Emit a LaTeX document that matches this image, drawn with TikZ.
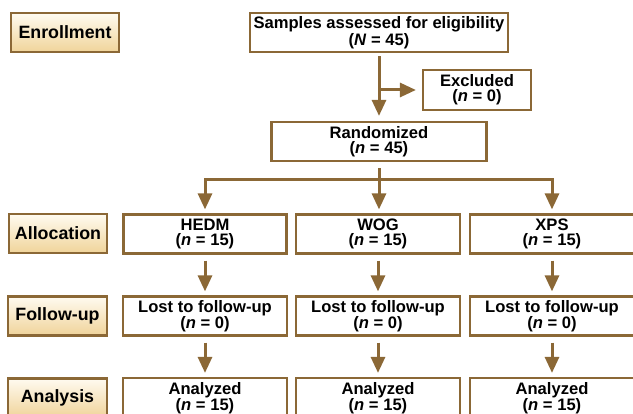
\documentclass[tikz,border=0pt]{standalone}
\usepackage{fontspec}
\setmainfont{Liberation Sans}
\usetikzlibrary{arrows.meta}

\definecolor{brd}{RGB}{139,104,54}
\definecolor{tanlo}{RGB}{240,212,154}
\definecolor{tanhi}{RGB}{255,251,240}

\tikzset{
  box/.style={draw=brd, line width=2.2pt, fill=white, align=center, inner sep=0pt,
    minimum height=39pt, font=\fontsize{16.6}{15}\selectfont\bfseries},
  stage/.style={draw=brd, line width=2.6pt, top color=tanhi, bottom color=tanlo,
    inner sep=0pt, minimum height=39pt, font=\fontsize{17.8}{18}\selectfont\bfseries},
  arr/.style={draw=brd, line width=3pt, -{Triangle[width=14pt,length=16pt]},
    shorten >=4pt, shorten <=6pt},
  ln/.style={draw=brd, line width=3pt}
}

\begin{document}
\begin{tikzpicture}[x=1pt,y=-1pt]
\clip (0,0) rectangle (633,414);
% stage labels
\node[stage, minimum width=108pt] (enroll) at (65,32.5) {Enrollment};
\node[stage, minimum width=98pt] (alloc) at (58,233.5) {Allocation};
\node[stage, minimum width=99pt] (follow) at (57.5,316) {Follow-up};
\node[stage, minimum width=99pt] (analysis) at (57.5,398) {Analysis};

% enrollment
\node[box, minimum width=258pt] (samples) at (379,32.5) {Samples assessed for eligibility\\(\textit{N} = 45)};
\node[box, minimum width=108pt, minimum height=40pt] (excl) at (477,90) {Excluded\\(\textit{n} = 0)};
\node[box, minimum width=215pt] (rand) at (379,141.5) {Randomized\\(\textit{n} = 45)};
\coordinate (exsplit) at (379,90);
\coordinate (split) at (379,180);

% groups
\node[box, minimum width=163pt] (hedm) at (205,234) {HEDM\\(\textit{n} = 15)};
\node[box, minimum width=164pt] (wog) at (378,234) {WOG\\(\textit{n} = 15)};
\node[box, minimum width=164pt] (xps) at (552,234) {XPS\\(\textit{n} = 15)};

\node[box, minimum width=164pt] (lost1) at (205,316) {Lost to follow-up\\(\textit{n} = 0)};
\node[box, minimum width=164pt] (lost2) at (378,316) {Lost to follow-up\\(\textit{n} = 0)};
\node[box, minimum width=164pt] (lost3) at (552,316) {Lost to follow-up\\(\textit{n} = 0)};

\node[box, minimum width=164pt, minimum height=40pt] (ana1) at (205,398) {Analyzed\\(\textit{n} = 15)};
\node[box, minimum width=164pt, minimum height=40pt] (ana2) at (378,398) {Analyzed\\(\textit{n} = 15)};
\node[box, minimum width=164pt, minimum height=40pt] (ana3) at (552,398) {Analyzed\\(\textit{n} = 15)};

% connectors
\draw[arr, shorten <=3pt, shorten >=5pt] (samples) -- (rand);
\draw[arr, shorten <=0pt, shorten >=6pt] (exsplit) -- (excl);
\draw[ln, shorten <=6pt] (rand) -- (split);
\draw[arr, shorten <=0pt] (split) -| (hedm);
\draw[arr, shorten <=0pt] (split) -- (split |- wog.north);
\draw[arr, shorten <=0pt] (split) -| (xps);

\draw[arr] (hedm) -- (lost1);
\draw[arr] (wog) -- (lost2);
\draw[arr] (xps) -- (lost3);
\draw[arr] (lost1) -- (ana1);
\draw[arr] (lost2) -- (ana2);
\draw[arr] (lost3) -- (ana3);
\end{tikzpicture}
\end{document}
